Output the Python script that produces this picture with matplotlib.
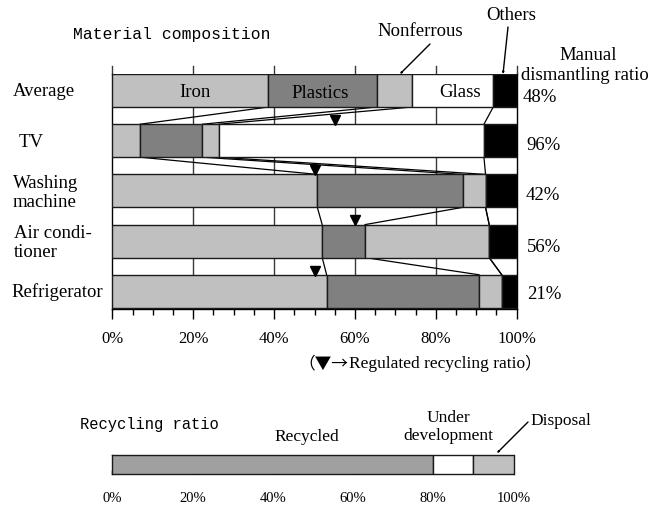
import matplotlib
matplotlib.use("Agg")
import matplotlib.pyplot as plt
import numpy as np

# ---- data -------------------------------------------------------------
categories = ["Average", "TV", "Washing\nmachine", "Air condi-\ntioner", "Refrigerator"]
iron       = [38.6,  6.9, 50.7, 51.9, 53.0]
plastics   = [26.9, 15.4, 35.9, 10.6, 37.7]
nonferrous = [ 8.7,  4.0,  5.7, 30.7,  5.6]
glass      = [20.0, 65.6,  0.0,  0.0,  0.0]
others     = [ 5.8,  8.1,  7.7,  6.8,  3.7]
manual_ratio = ["48%", "96%", "42%", "56%", "21%"]
regulated    = [None, 55, 50, 60, 50]

recycle_parts  = ["Recycled", "Under development", "Disposal"]
recycle_values = [80, 10, 10]
tick_labels = ["0%", "20%", "40%", "60%", "80%", "100%"]

# ---- style -------------------------------------------------------------
SERIF = "Liberation Serif"
MONO = "Liberation Mono"
CJK = "Noto Sans CJK JP"
LIGHT = "#c0c0c0"
DARK = "#808080"
MID = "#a0a0a0"
EDGE = "#1a1a1a"

W, H = 669, 506
fig = plt.figure(figsize=(W / 100, H / 100), dpi=100)


def fx(x):
    return x / W


def fy(y):
    return 1 - y / H


# ---- material composition chart ---------------------------------------
ax = fig.add_axes([fx(112.3), fy(310), (516.7 - 112.3) / W, (310 - 75) / H])
bar_h = 0.657
ypos = np.arange(len(categories))

segments = [(iron, LIGHT), (plastics, DARK), (nonferrous, LIGHT),
            (glass, "white"), (others, "black")]
left = np.zeros(len(categories))
bounds = []
for vals, col in segments:
    v = np.array(vals)
    ax.barh(ypos, v, left=left, height=bar_h, color=col, edgecolor=EDGE,
            linewidth=1.0, zorder=3)
    left = left + v
    bounds.append(left.copy())

# grid lines visible between the bars
for gx in [20, 40, 60, 80]:
    ax.axvline(gx, color="#3a3a3a", lw=1.0, zorder=1)

# lines joining matching boundaries of neighbouring bars
for i in range(len(categories) - 1):
    for b in bounds[:4]:
        ax.plot([b[i], b[i + 1]], [i + bar_h / 2, i + 1 - bar_h / 2],
                color="black", lw=0.9, zorder=2)

# regulated recycling ratio markers
for i, r in enumerate(regulated):
    if r is not None:
        ax.plot(r, i - bar_h / 2 - 0.085, marker="v", color="black",
                markersize=7.5, zorder=4, clip_on=False)

ax.set_xlim(0, 100)
ax.set_ylim(4.353, -0.329)
ax.set_yticks([])
ax.set_xticks(np.arange(0, 101, 20))
ax.set_xticks(np.arange(0, 101, 5), minor=True)
ax.set_xticklabels(tick_labels, fontfamily=SERIF, fontsize=12)
ax.tick_params(axis="x", which="major", direction="out", length=7, width=1,
               pad=8, colors="black")
ax.tick_params(axis="x", which="minor", direction="out", length=4, width=1)
for s in ["left", "right", "bottom"]:
    ax.spines[s].set_linewidth(1.0)
    ax.spines[s].set_color("black")
ax.spines["top"].set_visible(False)
ax.set_facecolor("white")

# short ticks above the top bar
for tx in np.arange(0, 101, 20):
    ax.plot([tx, tx], [-0.329, -0.329 - 0.16], color="#3a3a3a", lw=1.0,
            clip_on=False, zorder=2)

# segment names inside the average bar
ax.text(20.4, 0.02, "Iron", ha="center", va="center", fontfamily=SERIF,
        fontsize=13.5, zorder=5)
ax.text(51.4, 0.04, "Plastics", ha="center", va="center", fontfamily=SERIF,
        fontsize=13.5, zorder=5)
ax.text(86.0, 0.02, "Glass", ha="center", va="center", fontfamily=SERIF,
        fontsize=13.5, zorder=5)

# row labels
label_x = {0: 13, 1: 19, 2: 13, 3: 14, 4: 11}
label_y = [92, 143, 193, 243, 292]
for i, name in enumerate(categories):
    fig.text(fx(label_x[i]), fy(label_y[i]), name, ha="left", va="center",
             fontfamily=SERIF, fontsize=13.5, linespacing=1.12)

# manual dismantling ratio column
pct_x = [523, 526, 526, 527, 527]
pct_y = [97, 146, 196, 247, 295]
for i, t in enumerate(manual_ratio):
    fig.text(fx(pct_x[i]), fy(pct_y[i]), t, ha="left", va="center",
             fontfamily=SERIF, fontsize=13.5)
fig.text(fx(588), fy(56), "Manual", ha="center", va="center",
         fontfamily=SERIF, fontsize=13.5)
fig.text(fx(521), fy(75), "dismantling ratio", ha="left", va="center",
         fontfamily=SERIF, fontsize=13.5)

fig.text(fx(73), fy(34), "Material composition", ha="left", va="center",
         fontfamily=MONO, fontsize=11.8)

# callouts
fig.text(fx(420), fy(32), "Nonferrous", ha="center", va="center",
         fontfamily=SERIF, fontsize=13.5)
fig.text(fx(511), fy(16), "Others", ha="center", va="center",
         fontfamily=SERIF, fontsize=13.5)
arrow = dict(arrowstyle="-|>,head_length=0.9,head_width=0.45", color="black",
             lw=1.0, shrinkA=0, shrinkB=0)
fig.add_artist(matplotlib.patches.FancyArrowPatch(
    (fx(430), fy(45)), (fx(400), fy(75)), transform=fig.transFigure, **arrow))
fig.add_artist(matplotlib.patches.FancyArrowPatch(
    (fx(508), fy(28)), (fx(503), fy(75)), transform=fig.transFigure, **arrow))

# legend note for the triangles, set piece by piece so the symbols use
# full-width glyphs and the words stay in the serif face
note_parts = [("（▼→", CJK, 12.0), ("Regulated recycling ratio", SERIF, 12.5),
              ("）", CJK, 12.0)]
fig.canvas.draw()
renderer = fig.canvas.get_renderer()
pieces = []
total = 0.0
for txt, fam, size in note_parts:
    t = fig.text(0, fy(364), txt, ha="left", va="center", fontfamily=fam,
                 fontsize=size)
    w = t.get_window_extent(renderer).width
    pieces.append((t, w))
    total += w
x0 = 420 - total / 2
for t, w in pieces:
    t.set_x(fx(x0))
    x0 += w

# ---- recycling ratio chart ---------------------------------------------
ax2 = fig.add_axes([fx(112.3), fy(475), (513.5 - 112.3) / W, 19 / H])
rcols = [MID, "white", LIGHT]
lft = 0
for v, c in zip(recycle_values, rcols):
    ax2.barh([0], [v], left=lft, height=1.0, color=c, edgecolor=EDGE,
             linewidth=1.0, zorder=3)
    lft += v
ax2.set_xlim(0, 100)
ax2.set_ylim(-0.5, 0.5)
ax2.set_yticks([])
ax2.set_xticks(np.arange(0, 101, 20))
ax2.set_xticklabels(tick_labels, fontfamily=SERIF, fontsize=10.5)
ax2.tick_params(axis="x", direction="in", length=3, width=1, pad=12)
for s in ax2.spines.values():
    s.set_linewidth(1.0)
    s.set_color(EDGE)
for t in ax2.xaxis.get_major_ticks():
    t.tick1line.set_zorder(5)
ax2.set_axisbelow(False)

fig.text(fx(80), fy(425), "Recycling ratio", ha="left", va="center",
         fontfamily=MONO, fontsize=11.2)
fig.text(fx(307), fy(437), recycle_parts[0], ha="center", va="center",
         fontfamily=SERIF, fontsize=12.5)
fig.text(fx(448), fy(427), "Under\ndevelopment", ha="center", va="center",
         fontfamily=SERIF, fontsize=12.5, linespacing=1.1)
fig.text(fx(530), fy(421), recycle_parts[2], ha="left", va="center",
         fontfamily=SERIF, fontsize=12.5)
fig.add_artist(matplotlib.patches.FancyArrowPatch(
    (fx(528), fy(423)), (fx(497), fy(454)), transform=fig.transFigure,
    **arrow))

fig.savefig("out.png", dpi=100, facecolor="white")
